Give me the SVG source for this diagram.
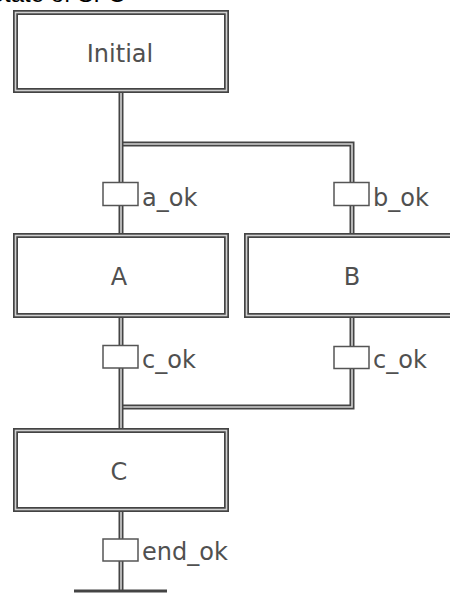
<svg xmlns="http://www.w3.org/2000/svg" width="450" height="593" viewBox="0 0 450 593">
  <style>
    .step-outer { fill: #ffffff; stroke: #444444; stroke-width: 5; }
    .step-inner { fill: none; stroke: #cfcfcf; stroke-width: 1.6; }
    .link-outer { fill: none; stroke: #444444; stroke-width: 5; stroke-linejoin: miter; }
    .link-inner { fill: none; stroke: #d2d2d2; stroke-width: 1.6; stroke-linejoin: miter; }
    .trans { fill: #ffffff; stroke: #555555; stroke-width: 1.5; }
    .label { font-family: "DejaVu Sans", "Liberation Sans", sans-serif; font-size: 24px; fill: #505050; }
    .step-label { text-anchor: middle; }
    .title { font-family: "Liberation Sans", "DejaVu Sans", sans-serif; font-size: 24px; fill: #000000; }
  </style>

  <!-- caption running off the top edge -->
  <text class="title" x="-12" y="1.5">State of SFC</text>

  <!-- connectors: double rails between steps and transitions -->
  <g id="connectors">
    <!-- fork from Initial to A and B -->
    <path class="link-outer" d="M121 144 H352 V184"/>
    <path class="link-inner" d="M121 144 H352 V184"/>
    <path class="link-outer" d="M121 93 V184"/>
    <path class="link-inner" d="M121 93 V184"/>
    <!-- transitions into A and B -->
    <path class="link-outer" d="M121 204 V235"/>
    <path class="link-inner" d="M121 204 V235"/>
    <path class="link-outer" d="M352 204 V235"/>
    <path class="link-inner" d="M352 204 V235"/>
    <!-- A and B down to their transitions -->
    <path class="link-outer" d="M121 316 V348"/>
    <path class="link-inner" d="M121 316 V348"/>
    <path class="link-outer" d="M352 316 V348"/>
    <path class="link-inner" d="M352 316 V348"/>
    <!-- join into C -->
    <path class="link-outer" d="M352 366 V407 H121"/>
    <path class="link-inner" d="M352 366 V407 H121"/>
    <path class="link-outer" d="M121 366 V430"/>
    <path class="link-inner" d="M121 366 V430"/>
    <!-- C to end -->
    <path class="link-outer" d="M121 510 V541"/>
    <path class="link-inner" d="M121 510 V541"/>
    <path class="link-outer" d="M121 559 V590"/>
    <path class="link-inner" d="M121 559 V590"/>
    <line x1="74" y1="591" x2="167" y2="591" stroke="#444444" stroke-width="3"/>
  </g>

  <!-- steps -->
  <g id="step-initial">
    <rect class="step-outer" x="15.5" y="12.5" width="211" height="78"/>
    <rect class="step-inner" x="15.5" y="12.5" width="211" height="78"/>
    <text class="label step-label" x="120" y="62">Initial</text>
  </g>
  <g id="step-a">
    <rect class="step-outer" x="15.5" y="235.5" width="211" height="80"/>
    <rect class="step-inner" x="15.5" y="235.5" width="211" height="80"/>
    <text class="label step-label" x="119" y="285">A</text>
  </g>
  <g id="step-b">
    <rect class="step-outer" x="246.5" y="235.5" width="211" height="80"/>
    <rect class="step-inner" x="246.5" y="235.5" width="211" height="80"/>
    <text class="label step-label" x="352" y="285">B</text>
  </g>
  <g id="step-c">
    <rect class="step-outer" x="15.5" y="430.5" width="211" height="79"/>
    <rect class="step-inner" x="15.5" y="430.5" width="211" height="79"/>
    <text class="label step-label" x="119" y="480">C</text>
  </g>

  <!-- transitions -->
  <g id="trans-a-ok">
    <rect class="trans" x="103" y="182.5" width="35" height="23"/>
    <text class="label" x="142" y="206">a_ok</text>
  </g>
  <g id="trans-b-ok">
    <rect class="trans" x="334" y="182.5" width="35" height="23"/>
    <text class="label" x="373" y="206">b_ok</text>
  </g>
  <g id="trans-c-ok-a">
    <rect class="trans" x="103" y="345.5" width="35" height="22.5"/>
    <text class="label" x="142" y="368">c_ok</text>
  </g>
  <g id="trans-c-ok-b">
    <rect class="trans" x="334" y="346.5" width="35" height="22"/>
    <text class="label" x="373" y="368">c_ok</text>
  </g>
  <g id="trans-end-ok">
    <rect class="trans" x="103" y="539" width="35" height="22"/>
    <text class="label" x="142" y="560">end_ok</text>
  </g>
</svg>
